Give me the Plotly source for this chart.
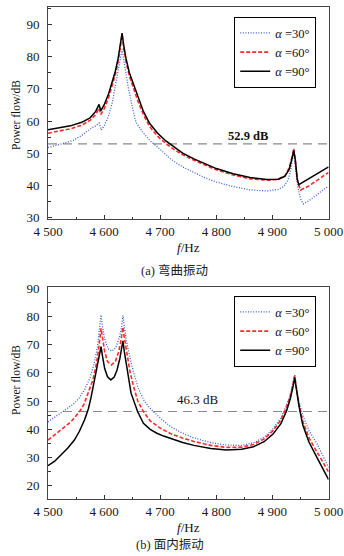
import plotly.graph_objects as go

# ---------------- data: (a) bending vibration ----------------
a90_f = [4500, 4520, 4540, 4560, 4575, 4585, 4591, 4594, 4600, 4608, 4615, 4620, 4625, 4629, 4632,
         4635, 4639, 4645, 4652, 4660, 4670, 4681, 4695, 4710, 4725, 4740, 4760, 4780, 4800, 4830,
         4860, 4890, 4910, 4922, 4930, 4935, 4938, 4941, 4944, 4947, 4960, 4980, 5000]
a90_v = [57.3, 57.8, 58.5, 59.6, 61.0, 63.0, 65.2, 63.2, 65.0, 68.5, 72.5, 75.5, 79.5, 83.5, 87.4,
         83.5, 79.5, 75.0, 71.5, 67.5, 63.0, 59.3, 56.3, 53.8, 51.8, 50.0, 48.2, 46.6, 45.2, 43.6,
         42.4, 41.8, 41.9, 42.8, 45.0, 48.5, 50.8, 47.5, 42.0, 40.2, 41.5, 43.5, 45.7]

a60_f = [4500, 4520, 4540, 4560, 4575, 4585, 4591, 4594, 4600, 4608, 4615, 4620, 4625, 4629, 4632,
         4635, 4639, 4645, 4652, 4660, 4670, 4681, 4695, 4710, 4725, 4740, 4760, 4780, 4800, 4830,
         4860, 4890, 4910, 4922, 4930, 4935, 4938, 4941, 4945, 4950, 4965, 4980, 5000]
a60_v = [56.2, 56.8, 57.6, 58.7, 60.2, 62.0, 64.0, 62.0, 63.8, 67.3, 71.3, 74.5, 78.5, 82.8, 86.8,
         82.5, 78.5, 74.0, 70.2, 66.3, 62.0, 58.3, 55.3, 53.0, 51.1, 49.5, 47.8, 46.2, 44.8, 43.2,
         42.0, 41.6, 41.8, 42.9, 45.5, 49.0, 51.4, 47.0, 41.0, 38.5, 39.8, 41.6, 44.0]

a30_f = [4500, 4520, 4545, 4560, 4575, 4586, 4591, 4595, 4600, 4608, 4615, 4620, 4625, 4629, 4632,
         4635, 4639, 4643, 4650, 4657, 4669, 4681, 4690, 4700, 4720, 4740, 4760, 4780, 4800, 4830,
         4860, 4890, 4910, 4920, 4928, 4933, 4937, 4941, 4945, 4950, 4955, 4965, 4980, 5000]
a30_v = [51.7, 52.7, 54.0, 55.5, 57.5, 58.6, 59.4, 57.2, 58.5, 61.5, 66.0, 71.0, 75.5, 79.5, 82.3,
         79.0, 74.5, 70.5, 64.5, 59.5, 56.5, 54.0, 52.7, 51.2, 48.0, 45.7, 43.9, 42.3, 41.0, 39.6,
         38.6, 38.2, 38.7, 39.6, 41.8, 45.0, 51.2, 46.0, 39.5, 35.8, 34.2, 35.2, 37.2, 39.8]

# ---------------- data: (b) in-plane vibration ----------------
b90_f = [4500, 4512, 4523, 4535, 4547, 4556, 4565, 4572, 4577, 4582.6, 4588, 4592, 4594.5, 4597,
         4601, 4606, 4612, 4618, 4623, 4628, 4631, 4633.5, 4636, 4640, 4648, 4659.6, 4670, 4682,
         4694, 4706, 4718, 4740, 4760, 4790, 4818, 4845, 4866, 4885, 4901, 4915, 4925, 4932, 4937,
         4939.6, 4942, 4947, 4954, 4965, 4978, 4990, 5000]
b90_v = [27.1, 28.7, 30.9, 33.3, 36.2, 39.3, 43.3, 47.3, 51.6, 57.5, 63.0, 66.5, 69.3, 66.0,
         61.5, 58.6, 57.5, 58.5, 61.0, 65.0, 68.5, 71.3, 67.5, 62.5, 52.8, 46.3, 42.1, 40.0,
         38.6, 37.6, 36.8, 35.3, 34.3, 33.2, 32.7, 32.9, 33.8, 35.6, 38.3, 42.0, 46.5, 51.0, 55.5,
         58.4, 55.0, 48.5, 41.5, 35.5, 30.5, 26.0, 22.2]

b60_f = [4500, 4512, 4523, 4541, 4556, 4564, 4571, 4580, 4586, 4590, 4594.5, 4597, 4601, 4606,
         4613, 4620, 4626, 4630, 4633.5, 4636, 4640, 4646, 4652, 4660, 4670, 4682, 4700, 4718,
         4738, 4760, 4790, 4818, 4845, 4866, 4885, 4901, 4915, 4925, 4932, 4937, 4939.6, 4942,
         4947, 4954, 4965, 4978, 4990, 5000]
b60_v = [36.2, 38.0, 39.8, 42.7, 46.2, 48.8, 52.8, 57.5, 63.0, 68.0, 75.8, 72.0, 67.5, 64.0,
         62.8, 64.0, 67.5, 71.5, 76.2, 72.5, 67.0, 60.5, 55.5, 50.0, 46.3, 43.0, 40.4, 38.5,
         37.0, 35.7, 34.3, 33.6, 33.7, 34.6, 36.6, 39.5, 43.3, 47.8, 52.0, 56.3, 58.9, 55.5,
         49.0, 42.8, 37.0, 32.4, 28.3, 24.9]

b30_f = [4500, 4515, 4530, 4545, 4555, 4565, 4574, 4582, 4588, 4592, 4594.5, 4597, 4601, 4607,
         4614, 4621, 4627, 4631, 4633.5, 4636, 4640, 4646, 4652, 4660, 4670, 4680, 4688, 4700,
         4718, 4740, 4759, 4790, 4818, 4845, 4866, 4885, 4901, 4915, 4925, 4932, 4937, 4939.6,
         4942, 4947, 4954, 4965, 4978, 4990, 5000]
b30_v = [42.6, 44.7, 46.6, 48.9, 50.9, 54.0, 57.8, 63.0, 69.0, 75.0, 80.5, 76.5, 72.0, 68.5,
         67.7, 69.0, 72.5, 76.0, 80.3, 76.5, 71.0, 65.5, 60.5, 55.0, 50.5, 47.8, 46.3, 44.0,
         41.0, 38.6, 37.0, 35.3, 34.4, 34.3, 35.2, 37.2, 40.2, 44.0, 48.4, 52.5, 56.7, 59.3,
         56.0, 50.0, 45.0, 39.5, 35.4, 30.8, 26.5]

ref_a = 52.9
ref_b = 46.3

x_ticks = [4500, 4600, 4700, 4800, 4900, 5000]
x_ticktext = ["4 500", "4 600", "4 700", "4 800", "4 900", "5 000"]
ya_ticks = [30, 40, 50, 60, 70, 80, 90]
yb_ticks = [20, 30, 40, 50, 60, 70, 80, 90]
labels = ["<i>α</i> =30°", "<i>α</i> =60°", "<i>α</i> =90°"]
captions = ["(a) 弯曲振动", "(b) 面内振动"]

SERIF = "Liberation Serif, Times New Roman, DejaVu Serif, serif"
CJK = "Liberation Serif, Noto Sans CJK SC, serif"
W, H = 344, 556

styles = [
    dict(color="#3b5fd0", width=1.3, dash="1px,1.6px"),
    dict(color="#ff2a2a", width=1.6, dash="4px,2px"),
    dict(color="#000000", width=1.5, dash="solid"),
]

fig = go.Figure()
series_a = [(a30_f, a30_v), (a60_f, a60_v), (a90_f, a90_v)]
series_b = [(b30_f, b30_v), (b60_f, b60_v), (b90_f, b90_v)]

# reference dashed lines
fig.add_trace(go.Scatter(x=[4500, 5000], y=[ref_a, ref_a], mode="lines",
                         line=dict(color="#8a8a8a", width=1.2, dash="9px,6px"),
                         showlegend=False, xaxis="x", yaxis="y", hoverinfo="skip"))
fig.add_trace(go.Scatter(x=[4500, 5000], y=[ref_b, ref_b], mode="lines",
                         line=dict(color="#8a8a8a", width=1.2, dash="9px,6px"),
                         showlegend=False, xaxis="x2", yaxis="y2", hoverinfo="skip"))

for (f, v), lab, st in zip(series_a, labels, styles):
    fig.add_trace(go.Scatter(x=f, y=v, mode="lines", name=lab, line=st,
                             xaxis="x", yaxis="y", legend="legend"))
for (f, v), lab, st in zip(series_b, labels, styles):
    fig.add_trace(go.Scatter(x=f, y=v, mode="lines", name=lab, line=st,
                             xaxis="x2", yaxis="y2", legend="legend2"))

xdom = [48 / W, 328.6 / W]
top_dom = [1 - 219 / H, 1 - 7 / H]
bot_dom = [1 - 499.3 / H, 1 - 287.3 / H]

def xaxis(anchor, dom):
    return dict(domain=dom, anchor=anchor, range=[4500, 5000], tickvals=x_ticks,
                ticktext=x_ticktext, ticks="inside", ticklen=4, tickcolor="#333",
                minor=dict(ticks="inside", dtick=50, tick0=4500, ticklen=2.5, tickcolor="#333"),
                showline=True, mirror=True, linecolor="#444", linewidth=1,
                showgrid=False, zeroline=False,
                tickfont=dict(family=SERIF, size=13, color="#1a1a1a"))

def yaxis(anchor, dom, rng, tv):
    return dict(domain=dom, anchor=anchor, range=rng, tickvals=tv, ticks="inside",
                ticklen=4, tickcolor="#333",
                minor=dict(ticks="inside", dtick=5, tick0=0, ticklen=2.5, tickcolor="#333"),
                showline=True, mirror=True, linecolor="#444", linewidth=1,
                showgrid=False, zeroline=False, ticklabelstandoff=5,
                tickfont=dict(family=SERIF, size=13, color="#1a1a1a"))

legend_common = dict(xanchor="right", yanchor="top", bgcolor="white",
                     bordercolor="#000", borderwidth=1.2,
                     font=dict(family=SERIF, size=12.5, color="#111"),
                     itemwidth=30, tracegroupgap=0)

fig.update_layout(
    width=W, height=H,
    margin=dict(l=0, r=0, t=0, b=0, autoexpand=False),
    paper_bgcolor="white", plot_bgcolor="white",
    xaxis=xaxis("y", xdom), yaxis=yaxis("x", top_dom, [29.5, 95.5], ya_ticks),
    xaxis2=xaxis("y2", xdom), yaxis2=yaxis("x2", bot_dom, [15.2, 90.3], yb_ticks),
    legend=dict(x=316 / W, y=1 - 17 / H, **legend_common),
    legend2=dict(x=316 / W, y=1 - 296 / H, **legend_common),
    showlegend=True,
)

C = dict(xanchor="center", yanchor="middle", showarrow=False)
ann = []
for yy in (115, 380):
    ann.append(dict(text="Power flow/dB", x=16 / W, y=1 - yy / H, xref="paper", yref="paper",
                    textangle=-90, font=dict(family=SERIF, size=11.5, color="#111"), **C))
for yy in (247, 527):
    ann.append(dict(text="<i>f</i>/Hz", x=188 / W, y=1 - yy / H, xref="paper", yref="paper",
                    font=dict(family=SERIF, size=13, color="#111"), **C))
ann.append(dict(text=captions[0], x=174 / W, y=1 - 270 / H, xref="paper", yref="paper",
                font=dict(family=CJK, size=12.5, color="#222"), **C))
ann.append(dict(text=captions[1], x=170 / W, y=1 - 545 / H, xref="paper", yref="paper",
                font=dict(family=CJK, size=12.5, color="#222"), **C))
ann.append(dict(text="<b>%.1f dB</b>" % ref_a, x=4856, y=55.3, xref="x", yref="y",
                font=dict(family=SERIF, size=12.5, color="#111"), **C))
ann.append(dict(text="%.1f dB" % ref_b, x=4768, y=50.7, xref="x2", yref="y2",
                font=dict(family=SERIF, size=13, color="#111"), **C))
fig.update_layout(annotations=ann)

fig.write_html("out.html")
